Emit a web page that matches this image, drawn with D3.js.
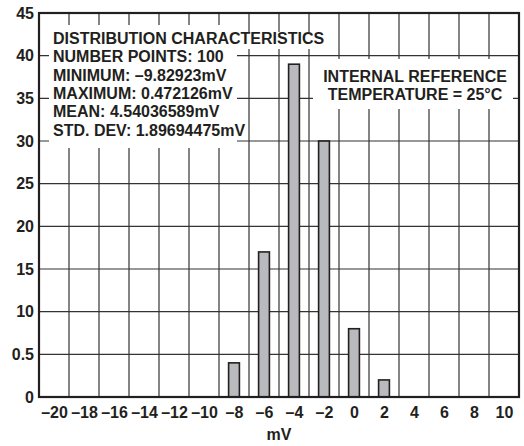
<!DOCTYPE html>
<html>
<meta charset="utf-8">
<head>
    <script src="https://d3js.org/d3.v7.min.js"></script>
<style>
    body { margin: 0; background: #ffffff; }
    text {
        font-family: "Liberation Sans", Arial, sans-serif;
        font-weight: bold;
        fill: #231f20;
    }
    .grid line {
        stroke: #333333;
        stroke-width: 1.2px;
    }
</style>
</head>
<body>
<div id="chart"></div>
<script>
    // histogram data
    var binCenters = [-8, -6, -4, -2, 0, 2];
    var counts = [4, 17, 39, 30, 8, 2];

    // tick labels (the original prints "0.5" at the 5 line)
    var yTickValues = [0, 5, 10, 15, 20, 25, 30, 35, 40, 45];
    var yTickLabels = ["0", "0.5", "10", "15", "20", "25", "30", "35", "40", "45"];
    var xTickValues = [-20, -18, -16, -14, -12, -10, -8, -6, -4, -2, 0, 2, 4, 6, 8, 10];
    var xGridValues = [-19, -17, -15, -13, -11, -9, -7, -5, -3, -1, 1, 3, 5, 7, 9];

    var statsLines = [
        "DISTRIBUTION CHARACTERISTICS",
        "NUMBER POINTS: 100",
        "MINIMUM: \u20139.82923mV",
        "MAXIMUM: 0.472126mV",
        "MEAN: 4.54036589mV",
        "STD. DEV: 1.89694475mV"
    ];
    var noteLines = ["INTERNAL REFERENCE", "TEMPERATURE = 25\u00B0C"];

    var margin = {top: 13, right: 5, bottom: 49, left: 39},
        width = 524 - margin.left - margin.right,
        height = 446 - margin.top - margin.bottom;

    var x = d3.scaleLinear().domain([-21, 11]).range([0, width]);
    var y = d3.scaleLinear().domain([0, 45]).range([height, 0]);

    var svg = d3.select("#chart").append("svg")
        .attr("width", 524)
        .attr("height", 446)
      .append("g")
        .attr("transform", "translate(" + margin.left + "," + margin.top + ")");

    // gridlines
    var grid = svg.append("g").attr("class", "grid");
    grid.selectAll(".vg")
        .data(xGridValues)
        .enter().append("line")
        .attr("x1", function(d) { return x(d); })
        .attr("x2", function(d) { return x(d); })
        .attr("y1", 0)
        .attr("y2", height);
    grid.selectAll(".hg")
        .data(yTickValues.slice(1, -1))
        .enter().append("line")
        .attr("x1", 0)
        .attr("x2", width)
        .attr("y1", function(d) { return y(d); })
        .attr("y2", function(d) { return y(d); });

    // bars
    var half = 0.36;
    svg.selectAll(".bar")
        .data(binCenters)
        .enter().append("rect")
        .attr("x", function(d) { return x(d - half); })
        .attr("width", function(d) { return x(d + half) - x(d - half); })
        .attr("y", function(d, i) { return y(counts[i]); })
        .attr("height", function(d, i) { return height - y(counts[i]); })
        .attr("fill", "#b9babe")
        .attr("stroke", "#231f20")
        .attr("stroke-width", 1.6);

    // white boxes behind the annotations
    svg.append("rect")
        .attr("x", 10).attr("y", 12)
        .attr("width", 188).attr("height", 123)
        .attr("fill", "#ffffff");
    svg.append("rect")
        .attr("x", 10).attr("y", 19)
        .attr("width", 278).attr("height", 17)
        .attr("fill", "#ffffff");
    svg.append("rect")
        .attr("x", 274).attr("y", 46)
        .attr("width", 200).attr("height", 50)
        .attr("fill", "#ffffff");

    // stats text
    svg.selectAll(".stat")
        .data(statsLines)
        .enter().append("text")
        .attr("x", 14)
        .attr("y", function(d, i) { return 31 + i * 18.3; })
        .style("font-size", "16px")
        .text(function(d) { return d; });

    svg.selectAll(".note")
        .data(noteLines)
        .enter().append("text")
        .attr("x", 376)
        .attr("y", function(d, i) { return 69 + i * 17.5; })
        .style("text-anchor", "middle")
        .style("font-size", "16px")
        .text(function(d) { return d; });

    // frame
    svg.append("rect")
        .attr("x", 0).attr("y", 0)
        .attr("width", width).attr("height", height)
        .attr("fill", "none")
        .attr("stroke", "#231f20")
        .attr("stroke-width", 2.2);

    // Y axis labels
    var yAxis = svg.append("g")
        .call(d3.axisLeft(y)
            .tickValues(yTickValues)
            .tickSize(0)
            .tickPadding(5)
            .tickFormat(function(d, i) { return yTickLabels[i]; }));
    yAxis.select(".domain").remove();
    yAxis.selectAll("text")
        .attr("font-family", null)
        .style("font-size", "16px");

    // X axis labels
    var xAxis = svg.append("g")
        .attr("transform", "translate(0," + height + ")")
        .call(d3.axisBottom(x)
            .tickValues(xTickValues)
            .tickSize(0)
            .tickPadding(10)
            .tickFormat(function(d) { return d < 0 ? "\u2013" + Math.abs(d) : String(d); }));
    xAxis.select(".domain").remove();
    xAxis.selectAll("text")
        .attr("font-family", null)
        .style("font-size", "16px");

    // text label for the x axis
    svg.append("text")
        .attr("x", width / 2)
        .attr("y", height + 43)
        .style("text-anchor", "middle")
        .style("font-size", "16px")
        .text("mV");
</script>
</body>
</html>
